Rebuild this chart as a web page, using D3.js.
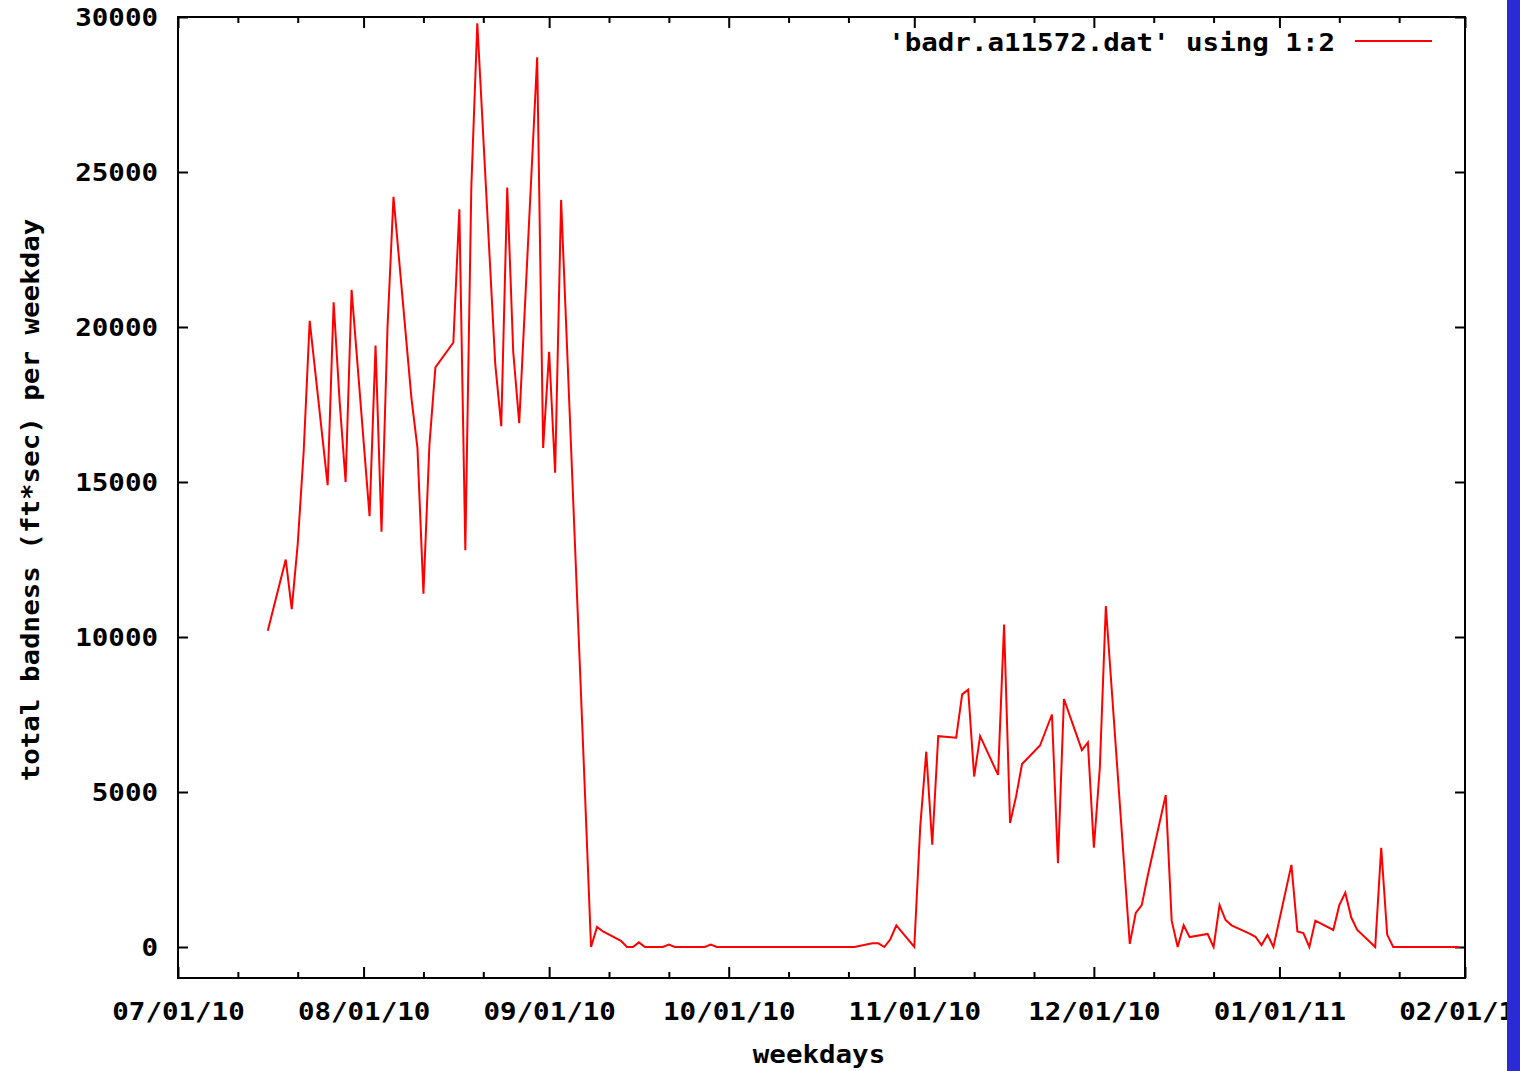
<!DOCTYPE html>
<html>
<head>
<meta charset="utf-8">
<script src="https://cdn.jsdelivr.net/npm/d3@7"></script>
<style>
  body { margin: 0; background: #fff; }
  text { font-family: "DejaVu Sans Mono", monospace; font-weight: bold; fill: #000; }
</style>
</head>
<body>
<script>
// weekday dates and total badness values
var days = [
  "2010-07-16","2010-07-19","2010-07-20","2010-07-21","2010-07-22","2010-07-23",
  "2010-07-26","2010-07-27","2010-07-28","2010-07-29","2010-07-30",
  "2010-08-02","2010-08-03","2010-08-04","2010-08-05","2010-08-06",
  "2010-08-09","2010-08-10","2010-08-11","2010-08-12","2010-08-13",
  "2010-08-16","2010-08-17","2010-08-18","2010-08-19","2010-08-20",
  "2010-08-23","2010-08-24","2010-08-25","2010-08-26","2010-08-27",
  "2010-08-30","2010-08-31","2010-09-01","2010-09-02","2010-09-03",
  "2010-09-06","2010-09-07","2010-09-08","2010-09-09","2010-09-10",
  "2010-09-13","2010-09-14","2010-09-15","2010-09-16","2010-09-17",
  "2010-09-20","2010-09-21","2010-09-22","2010-09-23","2010-09-24",
  "2010-09-27","2010-09-28","2010-09-29","2010-09-30","2010-10-01",
  "2010-10-04","2010-10-05","2010-10-06","2010-10-07","2010-10-08",
  "2010-10-11","2010-10-12","2010-10-13","2010-10-14","2010-10-15",
  "2010-10-18","2010-10-19","2010-10-20","2010-10-21","2010-10-22",
  "2010-10-25","2010-10-26","2010-10-27","2010-10-28","2010-10-29",
  "2010-11-01","2010-11-02","2010-11-03","2010-11-04","2010-11-05",
  "2010-11-08","2010-11-09","2010-11-10","2010-11-11","2010-11-12",
  "2010-11-15","2010-11-16","2010-11-17","2010-11-18","2010-11-19",
  "2010-11-22","2010-11-23","2010-11-24","2010-11-25","2010-11-26",
  "2010-11-29","2010-11-30","2010-12-01","2010-12-02","2010-12-03",
  "2010-12-06","2010-12-07","2010-12-08","2010-12-09","2010-12-10",
  "2010-12-13","2010-12-14","2010-12-15","2010-12-16","2010-12-17",
  "2010-12-20","2010-12-21","2010-12-22","2010-12-23","2010-12-24",
  "2010-12-27","2010-12-28","2010-12-29","2010-12-30","2010-12-31",
  "2011-01-03","2011-01-04","2011-01-05","2011-01-06","2011-01-07",
  "2011-01-10","2011-01-11","2011-01-12","2011-01-13","2011-01-14",
  "2011-01-17","2011-01-18","2011-01-19","2011-01-20","2011-01-21",
  "2011-01-24","2011-01-25","2011-01-26","2011-01-27","2011-01-28",
  "2011-01-31"
];
var badness = [
  10200,12500,10900,13000,16000,20200,
  14900,20800,17600,15000,21200,
  13900,19400,13400,20000,24200,
  17700,16100,11400,16200,18700,
  19500,23800,12800,24500,29800,
  18800,16800,24500,19200,16900,
  28700,16100,19200,15300,24100,
  9700,4900,0,650,500,
  200,0,0,150,0,
  0,80,0,0,0,
  0,80,0,0,0,
  0,0,0,0,0,
  0,0,0,0,0,
  0,0,0,0,0,
  120,120,0,250,700,
  0,3900,6300,3300,6800,
  6750,8150,8300,5500,6800,
  5550,10400,4000,4850,5900,
  6500,7000,7500,2700,8000,
  6350,6600,3200,5800,11000,
  2800,100,1100,1350,2300,
  4900,850,0,700,320,
  420,0,1350,870,700,
  430,330,60,390,0,
  2650,500,450,0,850,
  550,1350,1750,950,550,
  0,3200,400,0,0,
  0,0,0,0,0,
  0
];
var yTicks = [0, 5000, 10000, 15000, 20000, 25000, 30000];
var legendLabel = "'badr.a11572.dat' using 1:2";
var xTitle = "weekdays";
var yTitle = "total badness (ft*sec) per weekday";

var W = 1520, H = 1071;
var plotL = 178, plotR = 1465, plotT = 17, plotB = 978;
var charW = 16.55;

var parse = d3.utcParse("%Y-%m-%d");
var data = days.map(function (d, i) { return { date: parse(d), v: badness[i] }; });

var svg = d3.select("body").append("svg")
            .attr("width", W)
            .attr("height", H);

svg.append("rect").attr("width", W).attr("height", H).attr("fill", "#fff");

var x = d3.scaleUtc()
          .domain([Date.UTC(2010, 6, 1), Date.UTC(2011, 1, 1)])
          .range([plotL, plotR]);
var y = d3.scaleLinear()
          .domain([-1000, 30000])
          .range([plotB, plotT]);

var months = d3.utcMonth.range(new Date(Date.UTC(2010, 6, 1)), new Date(Date.UTC(2011, 1, 2)));
var minors = [];
months.forEach(function (m) {
  [10, 20].forEach(function (k) {
    var d = d3.utcDay.offset(m, k);
    if (d < x.domain()[1]) minors.push(d);
  });
});
var fmt = d3.utcFormat("%m/%d/%y");

function fit(sel) {
  sel.each(function () {
    var t = d3.select(this);
    t.attr("textLength", t.text().length * charW).attr("lengthAdjust", "spacingAndGlyphs");
  });
}

function styleAxis(g) {
  g.select(".domain").remove();
  g.selectAll("line").attr("stroke", "#000").attr("stroke-width", 2);
  g.selectAll("text").attr("font-size", 24).attr("fill", "#000")
   .attr("font-family", "DejaVu Sans Mono, monospace").attr("font-weight", "bold");
}

// bottom axis, major + minor
var gx = svg.append("g").attr("transform", "translate(0," + plotB + ")")
            .call(d3.axisBottom(x).tickValues(months).tickSize(-11).tickPadding(0).tickFormat(fmt));
styleAxis(gx);
gx.selectAll("text").attr("y", 42).attr("dy", null).call(fit);

var gxm = svg.append("g").attr("transform", "translate(0," + plotB + ")")
             .call(d3.axisBottom(x).tickValues(minors).tickSize(-6).tickFormat(""));
styleAxis(gxm);

// top mirror ticks
var gt = svg.append("g").attr("transform", "translate(0," + plotT + ")")
            .call(d3.axisTop(x).tickValues(months).tickSize(-11).tickFormat(""));
styleAxis(gt);
var gtm = svg.append("g").attr("transform", "translate(0," + plotT + ")")
             .call(d3.axisTop(x).tickValues(minors).tickSize(-6).tickFormat(""));
styleAxis(gtm);

// left axis
var gy = svg.append("g").attr("transform", "translate(" + plotL + ",0)")
            .call(d3.axisLeft(y).tickValues(yTicks).tickSize(-10).tickPadding(20).tickFormat(d3.format("d")));
styleAxis(gy);
gy.selectAll("text").attr("dy", "0.36em").call(fit);

// right mirror ticks
var gr = svg.append("g").attr("transform", "translate(" + plotR + ",0)")
            .call(d3.axisRight(y).tickValues(yTicks).tickSize(-10).tickFormat(""));
styleAxis(gr);

// frame
svg.append("rect")
   .attr("x", plotL).attr("y", plotT)
   .attr("width", plotR - plotL).attr("height", plotB - plotT)
   .attr("fill", "none").attr("stroke", "#000").attr("stroke-width", 2);

// data line
var line = d3.line()
             .x(function (d) { return x(d.date); })
             .y(function (d) { return y(d.v); });
svg.append("path")
   .datum(data)
   .attr("d", line)
   .attr("fill", "none")
   .attr("stroke", "#ff0000")
   .attr("stroke-width", 2)
   .attr("stroke-linejoin", "miter");

// key
svg.append("text")
   .attr("x", 1335).attr("y", 51)
   .attr("text-anchor", "end")
   .attr("font-size", 24)
   .text(legendLabel)
   .call(fit);
svg.append("line")
   .attr("x1", 1355).attr("x2", 1432)
   .attr("y1", 41).attr("y2", 41)
   .attr("stroke", "#ff0000").attr("stroke-width", 2);

// titles
svg.append("text")
   .attr("x", 819).attr("y", 1063)
   .attr("text-anchor", "middle")
   .attr("font-size", 24)
   .text(xTitle)
   .call(fit);
svg.append("text")
   .attr("transform", "translate(39,500) rotate(-90)")
   .attr("text-anchor", "middle")
   .attr("font-size", 24)
   .text(yTitle)
   .call(fit);

// blue strip on the right edge
svg.append("rect")
   .attr("x", 1507).attr("y", 0)
   .attr("width", W - 1507).attr("height", H)
   .attr("fill", "#2b2bd6");
</script>
</body>
</html>
